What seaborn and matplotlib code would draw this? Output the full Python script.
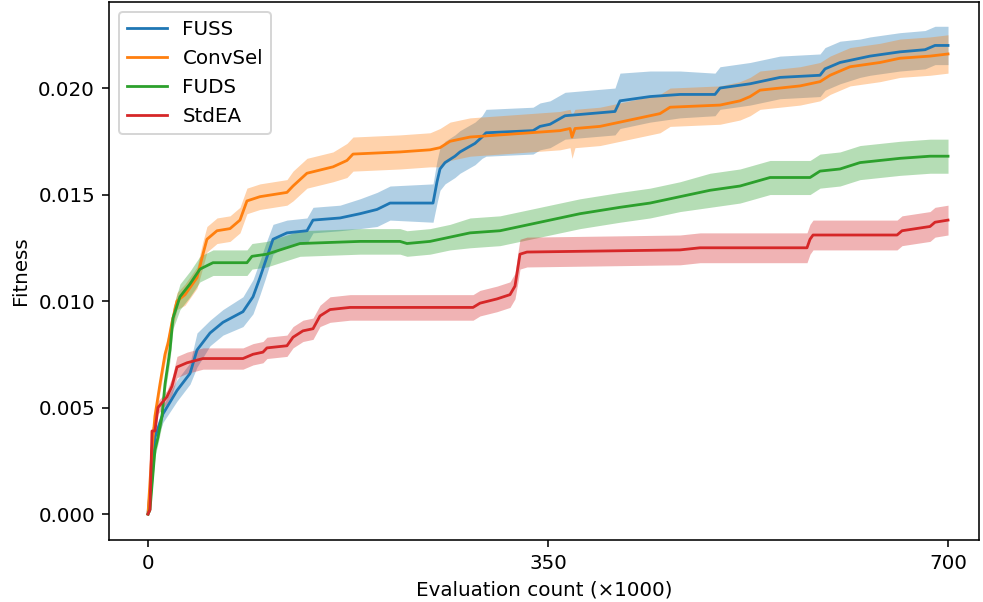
import numpy as np
import pandas as pd
import matplotlib
matplotlib.use("Agg")
import matplotlib.pyplot as plt
import seaborn as sns
from matplotlib.ticker import FormatStrFormatter

methods = ["FUSS", "ConvSel", "FUDS", "StdEA"]
colors = ["#1f77b4", "#ff7f0e", "#2ca02c", "#d62728"]

fuss_x = [0, 2.6, 6.1, 13.1, 25.4, 36.8, 42.9, 54.3, 65.6, 83.1, 91.9, 98.0, 102.4, 109.4,
          121.6, 139.1, 144.4, 168.0, 185.5, 200.4, 211.8, 249.4, 252.9, 255.5, 259.9, 268.6,
          273.0, 286.1, 292.3, 295.8, 336.9, 343.0, 351.8, 364.9, 408.6, 413.0, 439.3, 465.5,
          496.1, 500.5, 526.8, 553.0, 588.0, 592.4, 605.5, 623.0, 631.8, 658.0, 679.9, 688.6, 700.0]
fuss_y = [0, 0.0015, 0.0036, 0.0047, 0.0058, 0.0066, 0.0077, 0.0085, 0.0090, 0.0095, 0.0102,
          0.0111, 0.0118, 0.0129, 0.0132, 0.0133, 0.0138, 0.0139, 0.0141, 0.0143, 0.0146, 0.0146,
          0.0156, 0.0162, 0.0165, 0.0168, 0.0170, 0.0174, 0.0177, 0.0179, 0.0180, 0.0182, 0.0183,
          0.0187, 0.0189, 0.0194, 0.0196, 0.0197, 0.0197, 0.0200, 0.0202, 0.0205, 0.0206, 0.0209,
          0.0212, 0.0214, 0.0215, 0.0217, 0.0218, 0.0220, 0.0220]
fuss_h = [0, 0.0002, 0.0003, 0.0004, 0.0005, 0.0005, 0.0008, 0.0006, 0.0006, 0.0007, 0.0008,
          0.0008, 0.0008, 0.0007, 0.0006, 0.0006, 0.0006, 0.0006, 0.0007, 0.0008, 0.0008, 0.0009,
          0.0010, 0.0010, 0.0010, 0.0010, 0.0010, 0.0010, 0.0010, 0.0011, 0.0011, 0.0011, 0.0011,
          0.0011, 0.0011, 0.0013, 0.0012, 0.0011, 0.0010, 0.0010, 0.0010, 0.0010, 0.0010, 0.0010,
          0.0010, 0.0009, 0.0009, 0.0009, 0.0009, 0.0009, 0.0009]

conv_x = [0, 3.5, 6.1, 10.5, 14.9, 17.5, 21.0, 25.4, 32.4, 42.9, 48.1, 51.6, 60.4, 71.8, 80.5,
          86.6, 98.0, 121.6, 126.9, 139.1, 161.9, 174.1, 179.4, 220.5, 246.8, 255.5, 264.3,
          281.8, 308.0, 334.3, 360.5, 369.3, 371.0, 373.6, 395.5, 413.0, 430.5, 448.0, 456.8,
          500.5, 518.0, 526.8, 535.5, 570.5, 588.0, 596.8, 614.3, 640.5, 658.0, 684.3, 700.0]
conv_y = [0, 0.0030, 0.0046, 0.0061, 0.0075, 0.0080, 0.0090, 0.0100, 0.0103, 0.0111, 0.0122,
          0.0129, 0.0133, 0.0134, 0.0138, 0.0147, 0.0149, 0.0151, 0.0154, 0.0160, 0.0163, 0.0166,
          0.0169, 0.0170, 0.0171, 0.0172, 0.0175, 0.0177, 0.0178, 0.0179, 0.0180, 0.0181, 0.0177,
          0.0181, 0.0182, 0.0184, 0.0186, 0.0188, 0.0191, 0.0192, 0.0194, 0.0196, 0.0199, 0.0201,
          0.0203, 0.0206, 0.0210, 0.0212, 0.0214, 0.0215, 0.0216]
conv_h = [0, 0.0003, 0.0003, 0.0004, 0.0004, 0.0004, 0.0004, 0.0004, 0.0005, 0.0005, 0.0006,
          0.0006, 0.0006, 0.0006, 0.0006, 0.0006, 0.0006, 0.0006, 0.0007, 0.0007, 0.0007, 0.0008,
          0.0008, 0.0008, 0.0008, 0.0009, 0.0009, 0.0009, 0.0009, 0.0009, 0.0009, 0.0009, 0.0010,
          0.0009, 0.0009, 0.0009, 0.0009, 0.0009, 0.0009, 0.0009, 0.0009, 0.0009, 0.0009, 0.0009,
          0.0009, 0.0009, 0.0009, 0.0009, 0.0009, 0.0009, 0.0009]

fuds_x = [0, 1.75, 6.1, 8.75, 12.25, 14.9, 19.25, 21.9, 28.0, 36.75, 45.5, 56.9, 86.6, 91.0,
          104.1, 115.5, 133.0, 185.5, 220.5, 226.6, 246.8, 264.3, 281.8, 308.0, 334.3, 360.5,
          378.0, 413.0, 439.3, 465.5, 491.8, 518.0, 544.3, 579.3, 588.0, 605.5, 623.0, 640.5,
          658.0, 684.3, 700.0]
fuds_y = [0, 0.0002, 0.0030, 0.0036, 0.0046, 0.0061, 0.0077, 0.0092, 0.0102, 0.0108, 0.0115,
          0.0118, 0.0118, 0.0121, 0.0122, 0.0124, 0.0127, 0.0128, 0.0128, 0.0127, 0.0128, 0.0130,
          0.0132, 0.0133, 0.0136, 0.0139, 0.0141, 0.0144, 0.0146, 0.0149, 0.0152, 0.0154, 0.0158,
          0.0158, 0.0161, 0.0162, 0.0165, 0.0166, 0.0167, 0.0168, 0.0168]
fuds_h = [0, 0.0001, 0.0003, 0.0003, 0.0004, 0.0004, 0.0005, 0.0005, 0.0006, 0.0006, 0.0006,
          0.0006, 0.0006, 0.0006, 0.0006, 0.0006, 0.0006, 0.0006, 0.0006, 0.0006, 0.0006, 0.0006,
          0.0007, 0.0007, 0.0007, 0.0007, 0.0007, 0.0007, 0.0007, 0.0007, 0.0008, 0.0008, 0.0008,
          0.0008, 0.0008, 0.0008, 0.0008, 0.0008, 0.0008, 0.0008, 0.0008]

std_x = [0, 1.75, 3.5, 6.1, 8.75, 16.6, 21.0, 25.4, 34.1, 48.1, 83.1, 91.9, 100.6, 104.1,
         121.6, 126.9, 135.6, 144.4, 150.5, 159.3, 176.75, 284.4, 290.5, 305.4, 316.75, 321.1,
         323.75, 325.5, 331.6, 465.5, 483.0, 576.6, 579.25, 581.9, 655.4, 659.75, 684.25,
         688.6, 700.0]
std_y = [0, 0.0002, 0.0039, 0.0039, 0.0050, 0.0055, 0.0060, 0.0069, 0.0071, 0.0073, 0.0073,
         0.0075, 0.0076, 0.0078, 0.0079, 0.0083, 0.0086, 0.0087, 0.0093, 0.0096, 0.0097, 0.0097,
         0.0099, 0.0101, 0.0103, 0.0107, 0.0116, 0.0122, 0.0123, 0.0124, 0.0125, 0.0125, 0.0129,
         0.0131, 0.0131, 0.0133, 0.0135, 0.0137, 0.0138]
std_h = [0, 0.0001, 0.0002, 0.0002, 0.0003, 0.0003, 0.0004, 0.0005, 0.0005, 0.0005, 0.0005,
         0.0005, 0.0005, 0.0005, 0.0005, 0.0005, 0.0005, 0.0005, 0.0005, 0.0006, 0.0006, 0.0006,
         0.0006, 0.0006, 0.0006, 0.0006, 0.0007, 0.0007, 0.0007, 0.0007, 0.0007, 0.0007, 0.0007,
         0.0007, 0.0007, 0.0007, 0.0007, 0.0007, 0.0007]

xticks = [0, 350, 700]
yticks = [0.0, 0.005, 0.010, 0.015, 0.020]

series = {
    "FUSS": (fuss_x, fuss_y, fuss_h),
    "ConvSel": (conv_x, conv_y, conv_h),
    "FUDS": (fuds_x, fuds_y, fuds_h),
    "StdEA": (std_x, std_y, std_h),
}

frames = []
for m in methods:
    x, y, h = series[m]
    frames.append(pd.DataFrame({"x": x, "y": y, "h": h, "method": m}))
df = pd.concat(frames, ignore_index=True)

DPI = 143
plt.rcParams["font.family"] = ["DejaVu Sans"]
fig = plt.figure(figsize=(983 / DPI, 602 / DPI), dpi=DPI)
ax = fig.add_axes([109 / 983, 1 - 540 / 602, (979 - 109) / 983, (540 - 2) / 602])

for m, c in zip(methods, colors):
    d = df[df["method"] == m]
    ax.fill_between(d["x"], d["y"] - d["h"], d["y"] + d["h"], color=c, alpha=0.35,
                    linewidth=0)

sns.lineplot(data=df, x="x", y="y", hue="method", hue_order=methods,
             palette=colors, errorbar=None, sort=False, linewidth=1.4, ax=ax)

sns.move_legend(ax, "upper left", title=None, fontsize=10)

ax.set_xlim(-34.1, 727.1)
ax.set_ylim(-0.00122, 0.02404)
ax.set_xticks(xticks)
ax.set_yticks(yticks)
ax.yaxis.set_major_formatter(FormatStrFormatter("%.3f"))
ax.set_xlabel("Evaluation count (\u00d71000)")
ax.set_ylabel("Fitness")

fig.savefig("out.png", dpi=DPI)
